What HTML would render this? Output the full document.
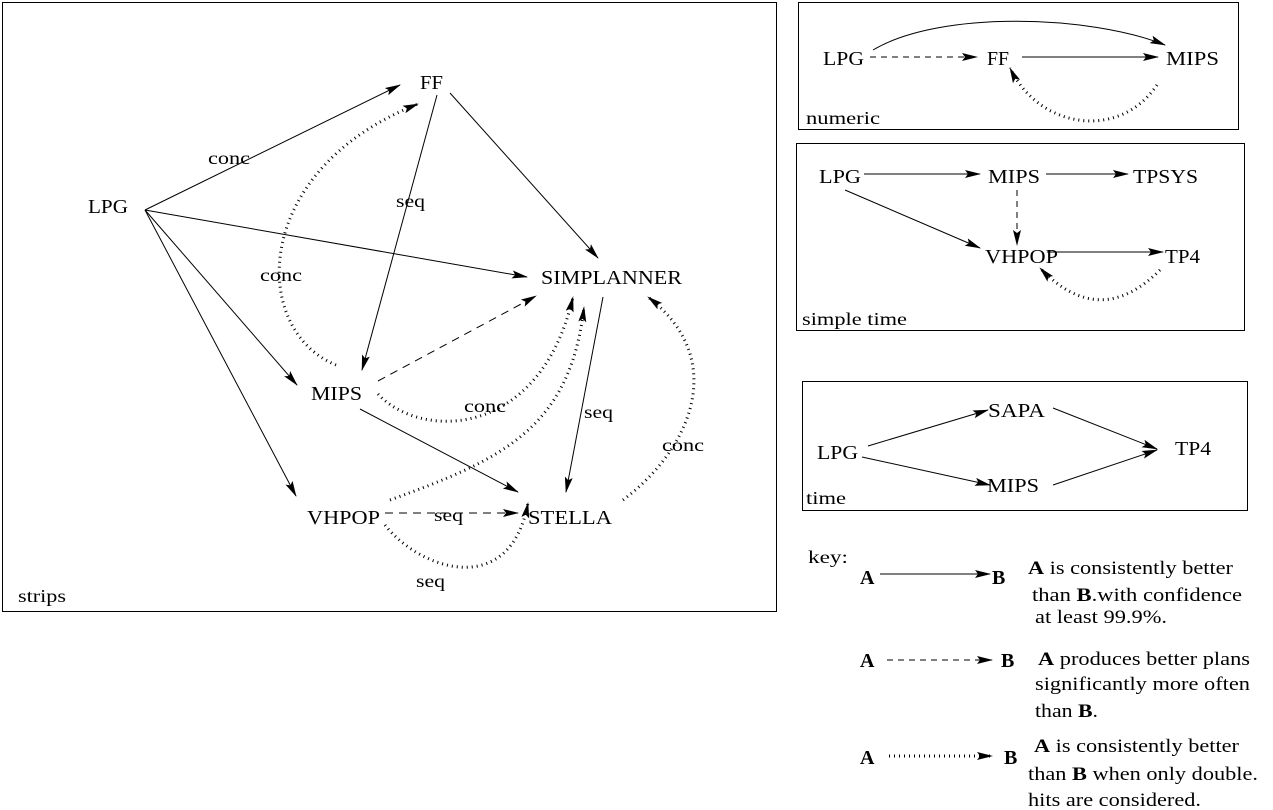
<!DOCTYPE html>
<html><head><style>
html,body{margin:0;padding:0;background:#fff;}
svg{display:block;}
text{font-family:"Liberation Serif",serif;font-size:20px;fill:#000;}
.s{font-size:18px;}
.k{font-size:19px;}
</style></head><body>
<svg width="1273" height="810" viewBox="0 0 1273 810" xmlns="http://www.w3.org/2000/svg">
<defs>
<marker id="a" markerWidth="16" markerHeight="8" refX="15" refY="4" orient="auto" markerUnits="userSpaceOnUse">
<path d="M0,0 L16,4 L0,8 L3,4 Z" fill="#000"/></marker>
</defs>
<g fill="none" stroke="#000">
<rect x="2.5" y="2.5" width="774" height="609" stroke-width="1"/>
<rect x="798.5" y="2.5" width="440" height="127"/>
<rect x="796.5" y="143.5" width="448" height="187"/>
<rect x="802.5" y="381.5" width="445" height="129"/>
</g>
<g fill="none" stroke="#000" stroke-width="1" marker-end="url(#a)">
<path d="M145,210 L400,85"/>
<path d="M145,210 L527,277"/>
<path d="M145,210 L297,385"/>
<path d="M145,210 L296,496"/>
<path d="M450,93 L598,258"/>
<path d="M437,95 L362,370"/>
<path d="M360,409 L518,492"/>
<path d="M603,297 L566,492"/>
<path d="M378,381 L536,296" stroke-dasharray="8 6"/>
<path d="M385,513 L518,513" stroke-dasharray="8 6"/>
<path d="M336,365 C250,330 250,170 418,104" stroke-width="3" stroke-dasharray="1 4"/>
<path d="M378,394 C420,440 540,440 573,297" stroke-width="3" stroke-dasharray="1 4"/>
<path d="M390,500 C500,460 570,430 584,307" stroke-width="3" stroke-dasharray="1 4"/>
<path d="M385,525 C420,570 510,600 528,503" stroke-width="3" stroke-dasharray="1 4"/>
<path d="M623,500 C690,450 730,360 648,297" stroke-width="3" stroke-dasharray="1 4"/>
<path d="M870,57 L977,57" stroke-dasharray="6 5"/>
<path d="M1022,57 L1158,57"/>
<path d="M873,50 C940,10 1090,15 1165,45"/>
<path d="M1157,85 C1120,140 1040,130 1010,68" stroke-width="3" stroke-dasharray="1 4"/>
<path d="M864,174 L980,174"/>
<path d="M1046,174 L1128,174"/>
<path d="M1017,190 L1017,245" stroke-dasharray="6 5"/>
<path d="M845,190 L980,248"/>
<path d="M1047,252 L1163,252"/>
<path d="M1160,270 C1120,310 1080,310 1040,268" stroke-width="3" stroke-dasharray="1 4"/>
<path d="M868,446 L988,410"/>
<path d="M862,457 L990,485"/>
<path d="M1053,408 L1157,449"/>
<path d="M1053,485 L1157,450"/>
<path d="M880,574 L990,574"/>
<path d="M887,660 L992,660" stroke-dasharray="6 5"/>
<path d="M889,756 L992,756" stroke-width="3" stroke-dasharray="1 4"/>
</g>
<text x="420" y="89" textLength="23" lengthAdjust="spacingAndGlyphs">FF</text>
<text x="88" y="213" textLength="40" lengthAdjust="spacingAndGlyphs">LPG</text>
<text x="541" y="284" textLength="141" lengthAdjust="spacingAndGlyphs">SIMPLANNER</text>
<text x="311" y="400" textLength="51" lengthAdjust="spacingAndGlyphs">MIPS</text>
<text x="307" y="524" textLength="73" lengthAdjust="spacingAndGlyphs">VHPOP</text>
<text x="528" y="524" textLength="84" lengthAdjust="spacingAndGlyphs">STELLA</text>
<text class="s" x="208" y="164" textLength="42" lengthAdjust="spacingAndGlyphs">conc</text>
<text class="s" x="396" y="207" textLength="29" lengthAdjust="spacingAndGlyphs">seq</text>
<text class="s" x="260" y="281" textLength="42" lengthAdjust="spacingAndGlyphs">conc</text>
<text class="s" x="464" y="412" textLength="42" lengthAdjust="spacingAndGlyphs">conc</text>
<text class="s" x="584" y="418" textLength="29" lengthAdjust="spacingAndGlyphs">seq</text>
<text class="s" x="662" y="451" textLength="42" lengthAdjust="spacingAndGlyphs">conc</text>
<text class="s" x="434" y="521" textLength="29" lengthAdjust="spacingAndGlyphs">seq</text>
<text class="s" x="416" y="587" textLength="29" lengthAdjust="spacingAndGlyphs">seq</text>
<text x="823" y="65" textLength="41" lengthAdjust="spacingAndGlyphs">LPG</text>
<text x="987" y="65" textLength="22" lengthAdjust="spacingAndGlyphs">FF</text>
<text x="1166" y="65" textLength="53" lengthAdjust="spacingAndGlyphs">MIPS</text>
<text x="819" y="183" textLength="42" lengthAdjust="spacingAndGlyphs">LPG</text>
<text x="988" y="183" textLength="52" lengthAdjust="spacingAndGlyphs">MIPS</text>
<text x="1133" y="183" textLength="65" lengthAdjust="spacingAndGlyphs">TPSYS</text>
<text x="985" y="263" textLength="73" lengthAdjust="spacingAndGlyphs">VHPOP</text>
<text x="1165" y="263" textLength="35" lengthAdjust="spacingAndGlyphs">TP4</text>
<text x="817" y="459" textLength="41" lengthAdjust="spacingAndGlyphs">LPG</text>
<text x="988" y="417" textLength="57" lengthAdjust="spacingAndGlyphs">SAPA</text>
<text x="987" y="492" textLength="52" lengthAdjust="spacingAndGlyphs">MIPS</text>
<text x="1175" y="455" textLength="36" lengthAdjust="spacingAndGlyphs">TP4</text>
<text class="s" x="18" y="602" textLength="48" lengthAdjust="spacingAndGlyphs">strips</text>
<text class="s" x="806" y="124" textLength="74" lengthAdjust="spacingAndGlyphs">numeric</text>
<text class="s" x="802" y="325" textLength="105" lengthAdjust="spacingAndGlyphs">simple time</text>
<text class="s" x="806" y="504" textLength="40" lengthAdjust="spacingAndGlyphs">time</text>
<text class="s" x="808" y="563" textLength="40" lengthAdjust="spacingAndGlyphs">key:</text>
<text x="860" y="584" font-weight="bold">A</text>
<text x="992" y="584" font-weight="bold">B</text>
<text x="860" y="667" font-weight="bold">A</text>
<text x="1001" y="667" font-weight="bold">B</text>
<text x="860" y="764" font-weight="bold">A</text>
<text x="1004" y="764" font-weight="bold">B</text>
<text class="k" x="1028" y="574" textLength="205" lengthAdjust="spacingAndGlyphs"><tspan font-weight="bold">A</tspan> is consistently better</text>
<text class="k" x="1032" y="601" textLength="210" lengthAdjust="spacingAndGlyphs">than <tspan font-weight="bold">B</tspan>.with confidence</text>
<text class="k" x="1035" y="623" textLength="132" lengthAdjust="spacingAndGlyphs">at least 99.9%.</text>
<text class="k" x="1038" y="665" textLength="212" lengthAdjust="spacingAndGlyphs"><tspan font-weight="bold">A</tspan> produces better plans</text>
<text class="k" x="1035" y="690" textLength="215" lengthAdjust="spacingAndGlyphs">significantly more often</text>
<text class="k" x="1035" y="717" textLength="63" lengthAdjust="spacingAndGlyphs">than <tspan font-weight="bold">B</tspan>.</text>
<text class="k" x="1034" y="752" textLength="205" lengthAdjust="spacingAndGlyphs"><tspan font-weight="bold">A</tspan> is consistently better</text>
<text class="k" x="1028" y="780" textLength="230" lengthAdjust="spacingAndGlyphs">than <tspan font-weight="bold">B</tspan> when only double.</text>
<text class="k" x="1028" y="806" textLength="173" lengthAdjust="spacingAndGlyphs">hits are considered.</text>
</svg>
</body></html>
